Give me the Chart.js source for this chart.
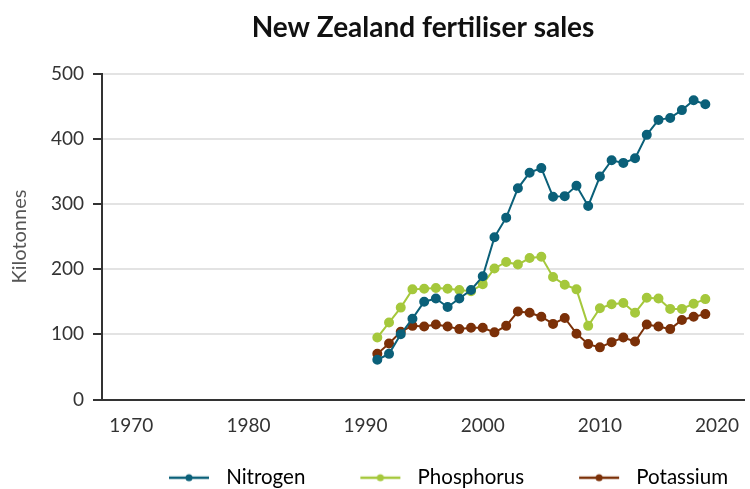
<!DOCTYPE html>
<html>
<head>
<meta charset="utf-8">
<script src="https://cdn.jsdelivr.net/npm/chart.js@4"></script>
<style>
  html, body { margin: 0; padding: 0; background: #fff; }
  #wrap { width: 750px; height: 489px; }
</style>
</head>
<body>
<div id="wrap"><canvas id="fertChart"></canvas></div>
<script>
const years = [1991, 1992, 1993, 1994, 1995, 1996, 1997, 1998, 1999, 2000,
  2001, 2002, 2003, 2004, 2005, 2006, 2007, 2008, 2009, 2010,
  2011, 2012, 2013, 2014, 2015, 2016, 2017, 2018, 2019];
const nitrogen = [61, 70, 100, 124, 150, 155, 142, 155, 168, 189,
  249, 279, 324, 348, 355, 311, 312, 328, 297, 342,
  367, 363, 370, 406, 429, 432, 444, 459, 453];
const phosphorus = [95, 118, 141, 169, 170, 171, 170, 168, 166, 177,
  201, 211, 207, 217, 219, 188, 176, 169, 113, 140,
  146, 148, 133, 156, 155, 139, 139, 147, 154];
const potassium = [70, 86, 104, 113, 112, 115, 112, 108, 110, 110,
  103, 113, 135, 133, 127, 116, 125, 101, 85, 80,
  88, 95, 89, 115, 112, 108, 122, 127, 131];
const xTicks = [1970, 1980, 1990, 2000, 2010, 2020];
const yTicks = [0, 100, 200, 300, 400, 500];

const colors = { nitrogen: '#0b6079', phosphorus: '#a5c83c', potassium: '#7b3008' };

// legend icon: blank gap on the left (item spacing), then line with a dot
const ICON_W = 92;
function legendIcon(color) {
  const c = document.createElement('canvas');
  c.width = ICON_W; c.height = 12;
  const g = c.getContext('2d');
  g.strokeStyle = color;
  g.lineWidth = 2.5;
  g.beginPath(); g.moveTo(45, 6); g.lineTo(85, 6); g.stroke();
  g.fillStyle = color;
  g.beginPath(); g.arc(65, 6, 3.5, 0, Math.PI * 2); g.fill();
  return c;
}

function series(label, values, color) {
  return {
    label: label,
    data: years.map((y, i) => ({ x: y, y: values[i] })),
    borderColor: color,
    backgroundColor: color,
    borderWidth: 2,
    pointRadius: 4,
    pointHoverRadius: 4,
    pointStyle: 'circle',
    icon: legendIcon(color),
    tension: 0
  };
}

const datasets = [
  series('Nitrogen', nitrogen, colors.nitrogen),
  series('Phosphorus', phosphorus, colors.phosphorus),
  series('Potassium', potassium, colors.potassium)
];

// nudge the legend to where it sits in the original
const shiftLegend = {
  id: 'shiftLegend',
  afterLayout(chart) {
    const lg = chart.legend;
    lg.left += 3; lg.right += 3;
    lg.top += 9; lg.bottom += 9;
  }
};

Chart.defaults.font.family = 'Lato, "Open Sans", sans-serif';
Chart.defaults.color = '#333';

new Chart(document.getElementById('fertChart'), {
  type: 'line',
  data: { datasets: datasets },
  plugins: [shiftLegend],
  options: {
    responsive: true,
    maintainAspectRatio: false,
    animation: false,
    layout: { padding: { left: 8, right: 2, top: 10, bottom: 0 } },
    plugins: {
      title: {
        display: true,
        text: 'New Zealand fertiliser sales',
        fullSize: false,
        color: '#111',
        font: { size: 28, weight: 'bold' },
        padding: { top: 1, bottom: 29 }
      },
      legend: {
        position: 'bottom',
        fullSize: false,
        labels: {
          usePointStyle: true,
          pointStyleWidth: ICON_W,
          boxHeight: 12,
          padding: 10,
          color: '#333',
          font: { size: 20.5 },
          generateLabels: chart => chart.data.datasets.map((d, i) => ({
            text: d.label,
            pointStyle: d.icon,
            fillStyle: d.borderColor,
            strokeStyle: d.borderColor,
            lineWidth: 0,
            datasetIndex: i
          }))
        }
      },
      tooltip: { enabled: false }
    },
    scales: {
      x: {
        type: 'linear',
        min: 1967.5,
        max: 2022.3,
        afterBuildTicks: axis => { axis.ticks = xTicks.map(v => ({ value: v })); },
        afterFit: axis => { axis.height = 49; },
        grid: { display: false, drawOnChartArea: false, drawTicks: true, tickLength: 9, tickColor: '#333', tickWidth: 2 },
        border: { display: true, color: '#333', width: 2 },
        ticks: { font: { size: 19 }, color: '#333', padding: 6, maxRotation: 0, callback: v => String(v) }
      },
      y: {
        min: 0,
        max: 500,
        afterBuildTicks: axis => { axis.ticks = yTicks.map(v => ({ value: v })); },
        afterFit: axis => { axis.width = 94; },
        grid: { color: '#e3e3e3', lineWidth: 2, tickLength: 9, tickColor: '#333', tickWidth: 2 },
        border: { display: true, color: '#333', width: 2 },
        ticks: { font: { size: 19 }, color: '#333', padding: 9 },
        title: { display: true, text: 'Kilotonnes', color: '#555', font: { size: 20 }, padding: { top: 0, bottom: 4 } }
      }
    }
  }
});
</script>
</body>
</html>
